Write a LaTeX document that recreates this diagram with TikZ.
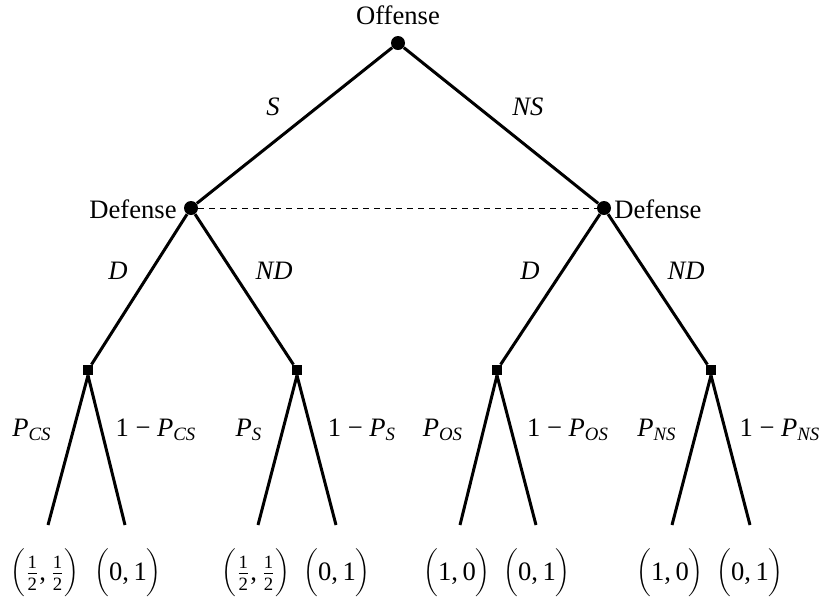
\documentclass[tikz,border=0pt]{standalone}
\usepackage{fontspec}
\setmainfont{Liberation Serif}
\newcommand\sm[1]{\mbox{\fontsize{9.4}{9.4}\selectfont #1}}
\newcommand\Pb[1]{\textit{P}$_{\sm{\itshape #1}}$}
\newcommand\half{$\frac{\sm{1}}{\sm{2}}$}
\newcommand\pay[1]{$\biggl(\mbox{#1}\biggr)$}
\begin{document}
\begin{tikzpicture}[x=0.5pt,y=-0.5pt,
  every node/.style={font=\fontsize{13.3}{16}\selectfont},
  dot/.style={circle,fill=black,inner sep=0pt,minimum size=7pt},
  sq/.style={rectangle,fill=black,inner sep=0pt,minimum size=5pt},
  edge/.style={line width=1.5pt},
  info/.style={line width=0.5pt,dash pattern=on 3pt off 2.5pt},
  lab/.style={inner sep=0pt}]
\useasboundingbox (0,0) rectangle (826,596);
% nodes
\node[dot] (o) at (398,43) {};
\node[dot] (dl) at (191,208) {};
\node[dot] (dr) at (604,208) {};
\node[sq] (c1) at (88,370) {};
\node[sq] (c2) at (297,370) {};
\node[sq] (c3) at (497,370) {};
\node[sq] (c4) at (711,370) {};
\coordinate (l1) at (48,525);
\coordinate (l2) at (125,525);
\coordinate (l3) at (258,525);
\coordinate (l4) at (336,525);
\coordinate (l5) at (460,525);
\coordinate (l6) at (536,525);
\coordinate (l7) at (672,525);
\coordinate (l8) at (750,525);
% player labels
\node[lab] (to) at (398,15) {Offense};
\node[lab,anchor=east] (tdl) at (177,209) {Defense};
\node[lab,anchor=west] (tdr) at (614,209) {Defense};
% edges
\draw[edge] (o) -- (dl);
\draw[edge] (o) -- (dr);
\draw[info] (dl) -- (dr);
\draw[edge] (dl) -- (c1);
\draw[edge] (dl) -- (c2);
\draw[edge] (dr) -- (c3);
\draw[edge] (dr) -- (c4);
\draw[edge] (c1.south) -- (l1);
\draw[edge] (c1.south) -- (l2);
\draw[edge] (c2.south) -- (l3);
\draw[edge] (c2.south) -- (l4);
\draw[edge] (c3.south) -- (l5);
\draw[edge] (c3.south) -- (l6);
\draw[edge] (c4.south) -- (l7);
\draw[edge] (c4.south) -- (l8);
% action labels
\node[lab] (aS) at (273,107) {\textit{S}};
\node[lab] (aNS) at (528,107) {\textit{NS}};
\node[lab] (aD1) at (118,271) {\textit{D}};
\node[lab] (aND1) at (274,271) {\textit{ND}};
\node[lab] (aD2) at (530,271) {\textit{D}};
\node[lab] (aND2) at (686,271) {\textit{ND}};
% chance labels
\node[lab] (p1) at (32,430) {\Pb{CS}};
\node[lab] (q1) at (156,430) {1 − \Pb{CS}};
\node[lab] (p2) at (249,430) {\Pb{S}};
\node[lab] (q2) at (362,430) {1 − \Pb{S}};
\node[lab] (p3) at (443,430) {\Pb{OS}};
\node[lab] (q3) at (568,430) {1 − \Pb{OS}};
\node[lab] (p4) at (657,430) {\Pb{NS}};
\node[lab] (q4) at (780,430) {1 − \Pb{NS}};
% payoffs
\node[lab] (u1) at (45,573) {\pay{\half,\,\half}};
\node[lab] (u2) at (128,573) {\pay{0,\,1}};
\node[lab] (u3) at (256,573) {\pay{\half,\,\half}};
\node[lab] (u4) at (337,573) {\pay{0,\,1}};
\node[lab] (u5) at (457,573) {\pay{1,\,0}};
\node[lab] (u6) at (537,573) {\pay{0,\,1}};
\node[lab] (u7) at (670,573) {\pay{1,\,0}};
\node[lab] (u8) at (750,573) {\pay{0,\,1}};
\end{tikzpicture}
\end{document}
